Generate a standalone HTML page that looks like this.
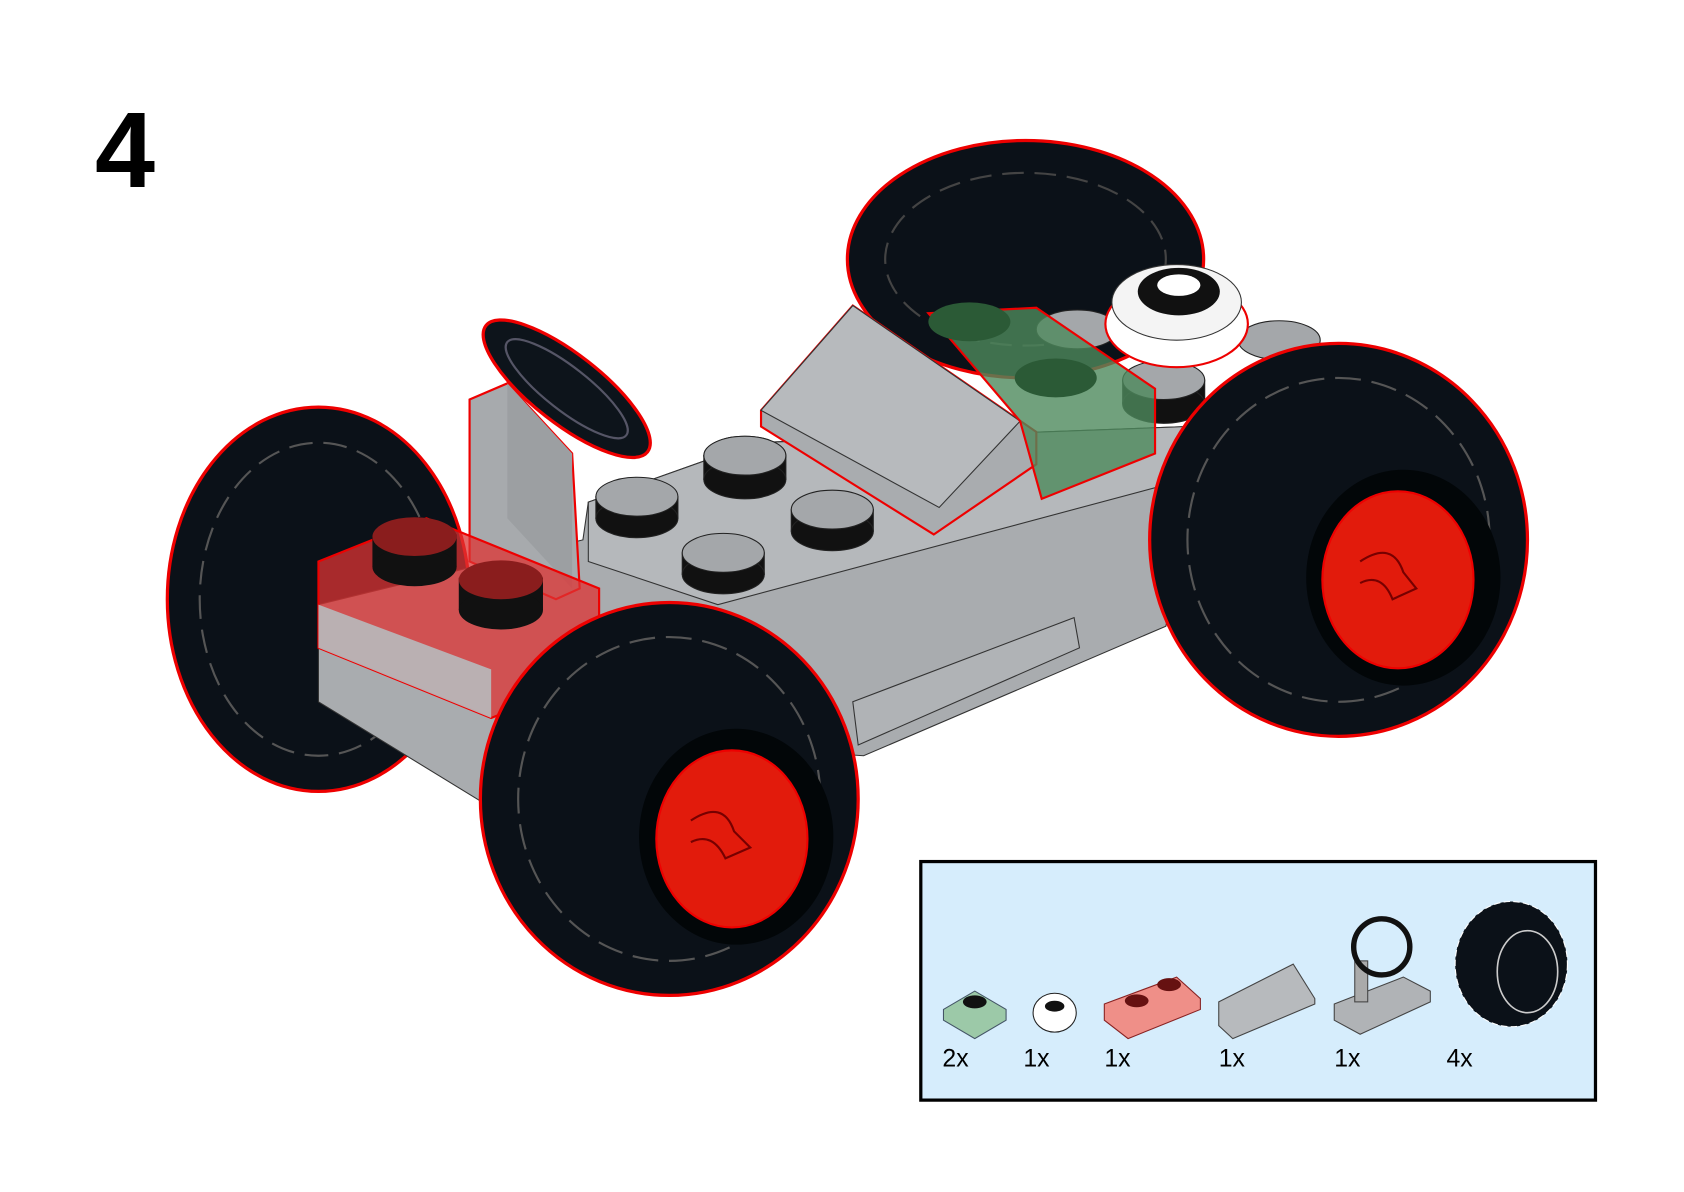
<!DOCTYPE html>
<html><head><meta charset="utf-8"><style>
html,body{margin:0;padding:0;background:#fff;}
svg{display:block;}
</style></head><body>
<svg width="1684" height="1192" viewBox="0 0 1560 1104" xmlns="http://www.w3.org/2000/svg">
<rect width="1560" height="1104" fill="#fff"/>
<text x="88" y="173" font-family="Liberation Sans, sans-serif" font-weight="bold" font-size="100">4</text>

<!-- back wheels -->
<ellipse cx="950" cy="240" rx="165" ry="110" fill="#0b1118" stroke="#e00" stroke-width="3"/>
<ellipse cx="950" cy="240" rx="130" ry="80" fill="none" stroke="#444" stroke-width="2" stroke-dasharray="20 10"/>
<ellipse cx="295" cy="555" rx="140" ry="178" fill="#0b1118" stroke="#e00" stroke-width="3"/>
<ellipse cx="295" cy="555" rx="110" ry="145" fill="none" stroke="#555" stroke-width="2" stroke-dasharray="22 10"/>

<!-- chassis -->
<polygon points="545,465 700,410 1100,395 1110,440 1080,580 800,700 650,690 450,745 295,650 295,560 540,500" fill="#a9acaf" stroke="#333" stroke-width="1"/>
<polygon points="545,465 700,410 1100,395 1095,445 665,560 545,520" fill="#b5b8bb" stroke="#333" stroke-width="1"/>
<polygon points="790,650 995,572 1000,600 795,690" fill="#b0b3b6" stroke="#333" stroke-width="1"/>
<!-- studs -->
<g fill="#a4a7aa" stroke="#222">
<ellipse cx="690" cy="422" rx="38" ry="18"/><rect x="652" y="422" width="76" height="22" fill="#111"/><ellipse cx="690" cy="444" rx="38" ry="18" fill="#111"/><ellipse cx="690" cy="422" rx="38" ry="18"/>
<rect x="552" y="460" width="76" height="20" fill="#111"/><ellipse cx="590" cy="480" rx="38" ry="18" fill="#111"/><ellipse cx="590" cy="460" rx="38" ry="18"/>
<rect x="733" y="472" width="76" height="20" fill="#111"/><ellipse cx="771" cy="492" rx="38" ry="18" fill="#111"/><ellipse cx="771" cy="472" rx="38" ry="18"/>
<rect x="632" y="512" width="76" height="20" fill="#111"/><ellipse cx="670" cy="532" rx="38" ry="18" fill="#111"/><ellipse cx="670" cy="512" rx="38" ry="18"/>
<rect x="1040" y="352" width="76" height="22" fill="#111"/><ellipse cx="1078" cy="374" rx="38" ry="18" fill="#111"/><ellipse cx="1078" cy="352" rx="38" ry="18"/>
<ellipse cx="998" cy="305" rx="38" ry="18"/><ellipse cx="1185" cy="315" rx="38" ry="18"/>
</g>
<!-- slope -->
<polygon points="705,380 790,283 960,400 960,430 865,495 705,395" fill="#a9acaf" stroke="#e00" stroke-width="2"/>
<polygon points="705,380 790,283 945,390 870,470" fill="#b7babd" stroke="#333" stroke-width="1"/>
<!-- green plates -->
<polygon points="860,290 960,285 1070,360 1070,420 965,462 945,390" fill="#4e8a5c" fill-opacity="0.8" stroke="#e00" stroke-width="2"/>
<ellipse cx="898" cy="298" rx="38" ry="18" fill="#2b5a36"/><ellipse cx="978" cy="350" rx="38" ry="18" fill="#2b5a36"/>
<!-- white round plate -->
<ellipse cx="1090" cy="300" rx="66" ry="40" fill="#fff" stroke="#e00" stroke-width="2"/>
<ellipse cx="1090" cy="280" rx="60" ry="35" fill="#f4f4f4" stroke="#333"/>
<ellipse cx="1092" cy="270" rx="38" ry="22" fill="#111"/><ellipse cx="1092" cy="264" rx="20" ry="10" fill="#fff"/>
<!-- steering column -->
<polygon points="435,370 470,355 530,420 537,545 515,555 435,520" fill="#a7aaad" stroke="#e00" stroke-width="2"/>
<polygon points="470,355 530,420 530,545 470,480" fill="#9c9fa2"/>
<ellipse cx="525" cy="360" rx="95" ry="32" transform="rotate(38 525 360)" fill="#0d141b" stroke="#e00" stroke-width="3"/>
<ellipse cx="525" cy="360" rx="70" ry="20" transform="rotate(38 525 360)" fill="none" stroke="#556" stroke-width="2"/>
<!-- red brick -->
<polygon points="295,520 395,480 555,545 555,625 455,665 295,600" fill="#d33" fill-opacity="0.75" stroke="#e00" stroke-width="2"/>
<polygon points="295,560 455,620 455,665 295,600" fill="#b7babc" fill-opacity="0.9"/>
<rect x="345" y="495" width="78" height="30" fill="#111"/><ellipse cx="384" cy="525" rx="39" ry="18" fill="#111"/><ellipse cx="384" cy="497" rx="39" ry="18" fill="#8a1d1d"/>
<rect x="425" y="535" width="78" height="30" fill="#111"/><ellipse cx="464" cy="565" rx="39" ry="18" fill="#111"/><ellipse cx="464" cy="537" rx="39" ry="18" fill="#8a1d1d"/>

<!-- front right wheel -->
<ellipse cx="1240" cy="500" rx="175" ry="182" fill="#0b1118" stroke="#e00" stroke-width="3"/>
<ellipse cx="1240" cy="500" rx="140" ry="150" fill="none" stroke="#555" stroke-width="2" stroke-dasharray="24 10"/>
<ellipse cx="1300" cy="535" rx="90" ry="100" fill="#020608"/>
<ellipse cx="1295" cy="537" rx="70" ry="82" fill="#e21b0c" stroke="#e00" stroke-width="2"/>
<path d="M1260,520 Q1290,500 1300,530 L1312,545 L1290,555 Q1280,530 1260,540" fill="none" stroke="#700" stroke-width="2"/>
<!-- front left wheel -->
<ellipse cx="620" cy="740" rx="175" ry="182" fill="#0b1118" stroke="#e00" stroke-width="3"/>
<ellipse cx="620" cy="740" rx="140" ry="150" fill="none" stroke="#555" stroke-width="2" stroke-dasharray="24 10"/>
<ellipse cx="682" cy="775" rx="90" ry="100" fill="#020608"/>
<ellipse cx="678" cy="777" rx="70" ry="82" fill="#e21b0c" stroke="#e00" stroke-width="2"/>
<path d="M640,760 Q670,740 680,770 L695,785 L672,795 Q660,770 640,780" fill="none" stroke="#700" stroke-width="2"/>

<!-- parts box -->
<rect x="853" y="798" width="625" height="221" fill="#d6edfc" stroke="#000" stroke-width="3"/>
<polygon points="874,935 903,918 932,935 932,945 903,962 874,945" fill="#9cc9a8" stroke="#456"/>
<ellipse cx="903" cy="928" rx="11" ry="6" fill="#111"/>
<ellipse cx="977" cy="938" rx="20" ry="18" fill="#fff" stroke="#222"/><ellipse cx="977" cy="932" rx="9" ry="5" fill="#111"/>
<polygon points="1023,930 1090,905 1112,925 1112,935 1045,962 1023,945" fill="#ef8f88" stroke="#822"/>
<ellipse cx="1053" cy="927" rx="11" ry="6" fill="#611"/><ellipse cx="1083" cy="912" rx="11" ry="6" fill="#611"/>
<polygon points="1129,928 1198,893 1218,925 1218,930 1142,962 1129,950" fill="#b7babd" stroke="#444"/>
<polygon points="1236,930 1300,905 1325,918 1325,928 1260,958 1236,945" fill="#b0b3b6" stroke="#444"/>
<rect x="1255" y="890" width="12" height="38" fill="#aaa" stroke="#444"/>
<ellipse cx="1280" cy="877" rx="26" ry="26" fill="none" stroke="#111" stroke-width="5"/>
<ellipse cx="1400" cy="893" rx="52" ry="58" fill="#0b1118" stroke="#fff" stroke-width="1" stroke-dasharray="6 3"/>
<ellipse cx="1415" cy="900" rx="28" ry="38" fill="none" stroke="#ccc" stroke-width="1.5"/>
<g font-family="Liberation Sans, sans-serif" font-size="23" fill="#000">
<text x="873" y="988">2x</text><text x="948" y="988">1x</text><text x="1023" y="988">1x</text>
<text x="1129" y="988">1x</text><text x="1236" y="988">1x</text><text x="1340" y="988">4x</text>
</g>
</svg>
</body></html>
